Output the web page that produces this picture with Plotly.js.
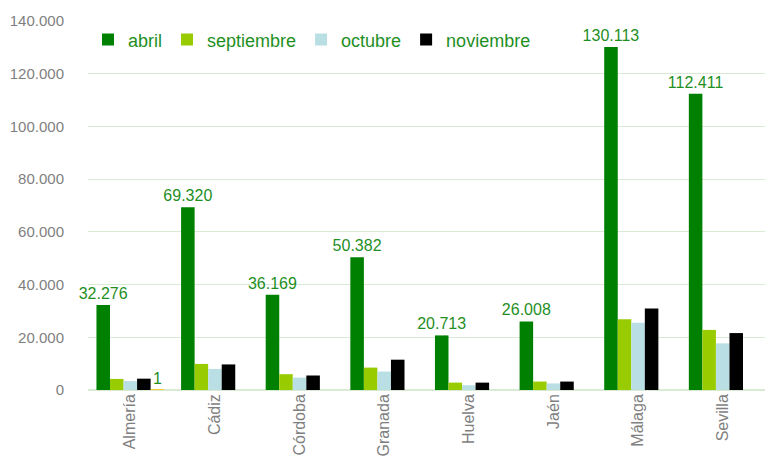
<!DOCTYPE html>
<html><head><meta charset="utf-8">
<script src="https://cdn.plot.ly/plotly-3.0.1.min.js"></script>
<style>body{margin:0;background:#fff}#c{width:771px;height:462px}</style>
</head><body><div id="c"></div>
<script>
const categories = ["Almería","Cádiz","Córdoba","Granada","Huelva","Jaén","Málaga","Sevilla"];
const abril = [32276, 69320, 36169, 50382, 20713, 26008, 130113, 112411];
const septiembre = [4200, 9900, 6000, 8500, 2800, 3200, 26800, 22800];
const octubre = [3400, 8000, 4700, 7000, 1800, 2500, 25500, 17700];
const noviembre = [4300, 9700, 5500, 11500, 2800, 3200, 30900, 21600];
const extra = [1, null, null, null, null, null, null, null];
const seriesNames = ["abril","septiembre","octubre","noviembre"];

const fmt = v => v == null ? "" : v.toLocaleString("de-DE");
const labelFont = {family:"Liberation Sans, Arial, sans-serif", size:16, color:"#1f8f1f"};

const traces = [
  {name:seriesNames[0], x:categories, y:abril, type:"bar", marker:{color:"#008000"},
   text:abril.map(fmt), textposition:"outside", textfont:labelFont, cliponaxis:false, constraintext:"none"},
  {name:seriesNames[1], x:categories, y:septiembre, type:"bar", marker:{color:"#99cc00"}},
  {name:seriesNames[2], x:categories, y:octubre, type:"bar", marker:{color:"#b9dfe4"}},
  {name:seriesNames[3], x:categories, y:noviembre, type:"bar", marker:{color:"#000000"}},
  {name:"", x:categories, y:extra, type:"bar", marker:{color:"#ffc000", line:{color:"#ffc000", width:1.5}}, showlegend:false,
   text:extra.map(fmt), textposition:"outside", textfont:labelFont, cliponaxis:false, constraintext:"none"}
];
traces.forEach(t => t.hoverinfo = "none");

const layout = {
  width:771, height:462,
  margin:{l:88, r:6, t:21, b:72},
  paper_bgcolor:"#fff", plot_bgcolor:"#fff",
  separators:",.",
  barmode:"group", bargap:0.2, bargroupgap:0,
  font:{family:"Liberation Sans, Arial, sans-serif", color:"#7f7f7f"},
  xaxis:{type:"category", tickangle:-90, tickfont:{size:16, color:"#7f7f7f"},
         showgrid:false, showline:false, ticks:"", zeroline:false},
  yaxis:{range:[0,140000], dtick:20000, tickformat:",d",
         tickfont:{size:15, color:"#7f7f7f"}, gridcolor:"#d9ead3", gridwidth:1,
         zeroline:true, zerolinecolor:"#d9ead3", zerolinewidth:1.5,
         ticks:"outside", ticklen:20, tickcolor:"rgba(0,0,0,0)", showline:false},
  showlegend:true,
  legend:{orientation:"h", x:0, y:0.999, xanchor:"left", yanchor:"top",
          font:{size:18, color:"#1f8f1f"}, bgcolor:"rgba(0,0,0,0)", itemwidth:30,
          traceorder:"normal"}
};
Plotly.newPlot("c", traces, layout, {displayModeBar:false, staticPlot:true});
</script></body></html>
